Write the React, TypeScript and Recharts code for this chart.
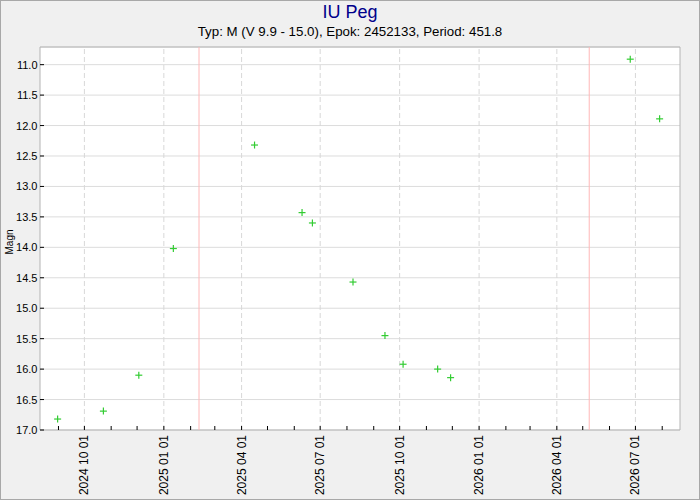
import React from 'react';
import {
  CartesianGrid,
  ReferenceArea,
  ReferenceLine,
  Scatter,
  ScatterChart,
  XAxis,
  YAxis,
} from 'recharts';

const OBS_DATES = [
  '2024-08-31', '2024-10-23', '2024-12-03', '2025-01-12', '2025-04-16',
  '2025-06-10', '2025-06-22', '2025-08-08', '2025-09-14', '2025-10-05',
  '2025-11-14', '2025-11-29', '2026-06-25', '2026-07-29',
];
const OBS_MAGS = [
  16.82, 16.69, 16.1, 14.02, 12.32,
  13.43, 13.6, 14.57, 15.45, 15.92,
  16.0, 16.14, 10.91, 11.89,
];

const MONTH_TICKS = [
  '2024-09-01', '2024-10-01', '2024-11-01', '2024-12-01',
  '2025-01-01', '2025-02-01', '2025-03-01', '2025-04-01', '2025-05-01', '2025-06-01',
  '2025-07-01', '2025-08-01', '2025-09-01', '2025-10-01', '2025-11-01', '2025-12-01',
  '2026-01-01', '2026-02-01', '2026-03-01', '2026-04-01', '2026-05-01', '2026-06-01',
  '2026-07-01', '2026-08-01',
];
const LABEL_TICKS = [
  '2024-10-01', '2025-01-01', '2025-04-01', '2025-07-01',
  '2025-10-01', '2026-01-01', '2026-04-01', '2026-07-01',
];
const MAG_TICKS = [11, 11.5, 12, 12.5, 13, 13.5, 14, 14.5, 15, 15.5, 16, 16.5, 17];

// ephemeris from the subtitle; the red lines mark predicted maxima
const EPOCH = 2452133;
const PERIOD = 451.8;
const MAX_CYCLES = [19, 20];

const X_DOMAIN = [19945.6, 20686.6];
const Y_DOMAIN = [10.71, 17];

const FONT = '"Liberation Sans", Arial, sans-serif';

const toDay = (d: string) => {
  const [y, m, dd] = d.split('-').map(Number);
  return Date.UTC(y, m - 1, dd) / 864e5;
};
const jdToDay = (jd: number) => jd - 2440587.5;

const points = OBS_DATES.map((d, i) => ({ x: toDay(d), y: OBS_MAGS[i] }));
const monthDays = MONTH_TICKS.map(toDay);
const labelByDay = new Map(LABEL_TICKS.map((d) => [toDay(d), d.replace(/-/g, ' ')]));
const maxima = MAX_CYCLES.map((n) => jdToDay(EPOCH + n * PERIOD));

function XTick({ x, y, payload }: any) {
  const label = labelByDay.get(payload.value);
  return (
    <g>
      <line x1={x} x2={x} y1={y} y2={y - 4} stroke="#000" />
      {label && (
        <text
          x={x}
          y={y + 5}
          transform={`rotate(-90 ${x} ${y + 5})`}
          textAnchor="end"
          dominantBaseline="central"
          fontSize={12}
          fontFamily={FONT}
          fill="#000"
        >
          {label}
        </text>
      )}
    </g>
  );
}

function YTick({ x, y, payload }: any) {
  return (
    <g>
      <line x1={x} x2={x + 4} y1={y} y2={y} stroke="#000" />
      <text
        x={x - 2.5}
        y={y}
        textAnchor="end"
        dominantBaseline="central"
        fontSize={11}
        fontFamily={FONT}
        fill="#000"
      >
        {Number(payload.value).toFixed(1)}
      </text>
    </g>
  );
}

function Plus({ cx, cy }: any) {
  return (
    <g stroke="#33cc33" strokeWidth={1.2}>
      <line x1={cx - 3.5} x2={cx + 3.5} y1={cy} y2={cy} />
      <line x1={cx} x2={cx} y1={cy - 3.5} y2={cy + 3.5} />
    </g>
  );
}

export default function App() {
  return (
    <div
      style={{
        position: 'absolute',
        left: 0,
        top: 0,
        width: 700,
        height: 500,
        background: '#f0f0f0',
        fontFamily: FONT,
      }}
    >
      <div
        style={{
          position: 'absolute',
          top: 2,
          width: 700,
          textAlign: 'center',
          fontSize: 18,
          lineHeight: '20px',
          color: '#00008b',
        }}
      >
        IU Peg
      </div>
      <div
        style={{
          position: 'absolute',
          top: 24,
          width: 700,
          textAlign: 'center',
          fontSize: 13.3,
          lineHeight: '16px',
          color: '#000',
        }}
      >
        Typ: M (V 9.9 - 15.0), Epok: 2452133, Period: 451.8
      </div>
      <div
        style={{
          position: 'absolute',
          left: 9,
          top: 242,
          transform: 'translate(-50%, -50%) rotate(-90deg)',
          fontSize: 10,
          color: '#000',
        }}
      >
        Magn
      </div>
      <ScatterChart width={700} height={500} margin={{ top: 47, right: 20, bottom: 0, left: 0 }}>
        <CartesianGrid vertical={false} stroke="#dcdcdc" fill="#fff" />
        <XAxis
          type="number"
          dataKey="x"
          domain={X_DOMAIN}
          allowDataOverflow
          ticks={monthDays}
          interval={0}
          height={70}
          tickSize={0}
          tickMargin={0}
          tickLine={false}
          axisLine={false}
          tick={<XTick />}
        />
        <YAxis
          type="number"
          dataKey="y"
          domain={Y_DOMAIN}
          allowDataOverflow
          reversed
          ticks={MAG_TICKS}
          interval={0}
          width={40}
          tickSize={0}
          tickMargin={0}
          tickLine={false}
          axisLine={false}
          tick={<YTick />}
        />
        {LABEL_TICKS.map((d) => (
          <ReferenceLine key={d} x={toDay(d)} stroke="#d8d8d8" strokeDasharray="5 3" />
        ))}
        {maxima.map((m) => (
          <ReferenceLine key={m} x={m} stroke="#ffb8b8" />
        ))}
        <ReferenceArea
          x1={X_DOMAIN[0]}
          x2={X_DOMAIN[1]}
          y1={Y_DOMAIN[0]}
          y2={Y_DOMAIN[1]}
          fill="none"
          stroke="#b4b4b4"
        />
        <Scatter data={points} shape={<Plus />} isAnimationActive={false} />
      </ScatterChart>
      <div
        style={{
          position: 'absolute',
          inset: 0,
          border: '1px solid #a8a8a8',
          pointerEvents: 'none',
        }}
      />
    </div>
  );
}
